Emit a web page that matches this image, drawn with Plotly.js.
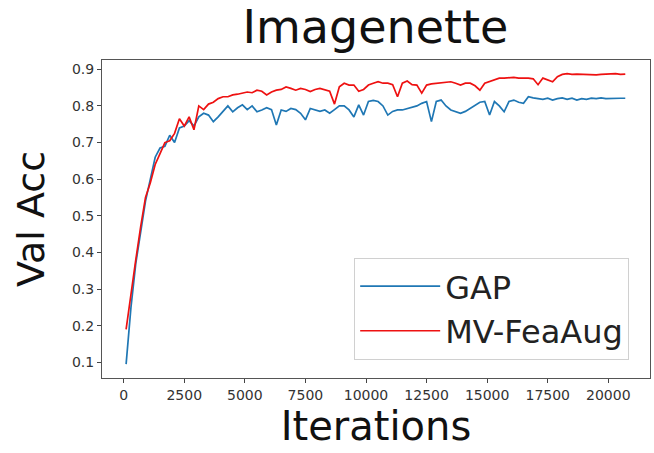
<!DOCTYPE html>
<html>
<head>
<meta charset="utf-8">
<script src="https://cdn.plot.ly/plotly-3.0.1.min.js"></script>
<style>
  html, body { margin: 0; padding: 0; background: #ffffff; }
  #chart { width: 654px; height: 453px; }
</style>
</head>
<body>
<div id="chart"></div>
<script>
const iterations = [
  100, 300, 500, 700, 900, 1100, 1300, 1500, 1700, 1900,
  2100, 2300, 2500, 2700, 2900, 3100, 3300, 3500, 3700, 3900,
  4100, 4300, 4500, 4700, 4900, 5100, 5300, 5500, 5700, 5900,
  6100, 6300, 6500, 6700, 6900, 7100, 7300, 7500, 7700, 7900,
  8100, 8300, 8500, 8700, 8900, 9100, 9300, 9500, 9700, 9900,
  10100, 10300, 10500, 10700, 10900, 11100, 11300, 11500, 11700, 11900,
  12100, 12300, 12500, 12700, 12900, 13100, 13300, 13500, 13700, 13900,
  14100, 14300, 14500, 14700, 14900, 15100, 15300, 15500, 15700, 15900,
  16100, 16300, 16500, 16700, 16900, 17100, 17300, 17500, 17700, 17900,
  18100, 18300, 18500, 18700, 18900, 19100, 19300, 19500, 19700, 19900,
  20100, 20300, 20500, 20700
];

const gapAcc = [
  0.095, 0.25, 0.37, 0.46, 0.54, 0.60, 0.66, 0.685, 0.69, 0.72,
  0.70, 0.74, 0.745, 0.76, 0.745, 0.77, 0.78, 0.775, 0.757, 0.77,
  0.785, 0.80, 0.784, 0.795, 0.803, 0.79, 0.80, 0.784, 0.789, 0.795,
  0.79, 0.748, 0.789, 0.785, 0.793, 0.79, 0.78, 0.762, 0.793, 0.789,
  0.785, 0.789, 0.78, 0.79, 0.80, 0.80, 0.789, 0.77, 0.803, 0.775,
  0.812, 0.815, 0.812, 0.80, 0.775, 0.785, 0.789, 0.789, 0.793, 0.795,
  0.80, 0.807, 0.812, 0.757, 0.812, 0.816, 0.80, 0.789, 0.785, 0.78,
  0.785, 0.793, 0.80, 0.81, 0.812, 0.775, 0.812, 0.80, 0.784, 0.812,
  0.816, 0.81, 0.807, 0.825, 0.822, 0.821, 0.818, 0.821, 0.816, 0.82,
  0.822, 0.818, 0.821, 0.816, 0.82, 0.818, 0.821, 0.82, 0.822, 0.82,
  0.821, 0.82, 0.821, 0.821
];

const mvFeaAugAcc = [
  0.19, 0.29, 0.38, 0.47, 0.55, 0.59, 0.64, 0.67, 0.70, 0.705,
  0.725, 0.765, 0.745, 0.77, 0.735, 0.80, 0.79, 0.805, 0.81, 0.82,
  0.825, 0.825, 0.83, 0.832, 0.834, 0.838, 0.836, 0.843, 0.84, 0.83,
  0.838, 0.843, 0.845, 0.852, 0.848, 0.843, 0.848, 0.845, 0.839, 0.845,
  0.848, 0.845, 0.84, 0.805, 0.852, 0.862, 0.857, 0.857, 0.84, 0.845,
  0.857, 0.862, 0.866, 0.862, 0.862, 0.858, 0.825, 0.862, 0.868, 0.858,
  0.857, 0.835, 0.857, 0.86, 0.862, 0.862, 0.866, 0.866, 0.862, 0.857,
  0.862, 0.862, 0.855, 0.843, 0.862, 0.866, 0.87, 0.876, 0.876, 0.878,
  0.878, 0.876, 0.877, 0.876, 0.874, 0.858, 0.876, 0.872, 0.866, 0.88,
  0.886, 0.888, 0.886, 0.887, 0.886, 0.885, 0.886, 0.885, 0.886, 0.887,
  0.887, 0.888, 0.886, 0.887
];

const xTicks = [0, 2500, 5000, 7500, 10000, 12500, 15000, 17500, 20000];
const yTicks = [0.1, 0.2, 0.3, 0.4, 0.5, 0.6, 0.7, 0.8, 0.9];
const seriesNames = ['GAP', 'MV-FeaAug'];

const FONT = 'DejaVu Sans, sans-serif';

const traces = [
  {
    x: iterations, y: gapAcc, name: seriesNames[0], type: 'scatter', mode: 'lines',
    line: { color: '#1f77b4', width: 1.7 }
  },
  {
    x: iterations, y: mvFeaAugAcc, name: seriesNames[1], type: 'scatter', mode: 'lines',
    line: { color: '#ee1111', width: 1.7 }
  }
];

const layout = {
  width: 654, height: 453,
  margin: { l: 102, r: 4, t: 60, b: 75 },
  paper_bgcolor: '#ffffff', plot_bgcolor: '#ffffff',
  font: { family: FONT, color: '#222222' },
  title: {
    text: 'Imagenette',
    font: { family: FONT, size: 46, color: '#111111' },
    x: 0.574, xref: 'container', xanchor: 'center',
    y: 0.905, yref: 'container', yanchor: 'bottom'
  },
  xaxis: {
    range: [-895, 21720],
    tickvals: xTicks, ticktext: xTicks.map(String),
    ticks: 'outside', ticklen: 4, tickwidth: 1, tickcolor: '#444',
    tickfont: { family: FONT, size: 14, color: '#333' },
    showgrid: false, zeroline: false,
    showline: true, linecolor: '#555', linewidth: 1, mirror: true,
    title: { text: 'Iterations', font: { family: FONT, size: 40, color: '#111' }, standoff: 10 }
  },
  yaxis: {
    range: [0.0571, 0.9254],
    tickvals: yTicks, ticktext: yTicks.map(v => v.toFixed(1)),
    ticks: 'outside', ticklen: 4, tickwidth: 1, tickcolor: '#444',
    tickfont: { family: FONT, size: 14, color: '#333' },
    showgrid: false, zeroline: false,
    showline: true, linecolor: '#555', linewidth: 1, mirror: true,
    title: { text: 'Val Acc', font: { family: FONT, size: 38, color: '#111' }, standoff: 15 }
  },
  showlegend: true,
  legend: {
    x: 0.962, xanchor: 'right', y: 0.057, yanchor: 'bottom',
    bgcolor: '#ffffff', bordercolor: '#d0d0d0', borderwidth: 1,
    font: { family: FONT, size: 32, color: '#222' },
    itemwidth: 80
  }
};

Plotly.newPlot('chart', traces, layout, { staticPlot: true, displayModeBar: false });
</script>
</body>
</html>
